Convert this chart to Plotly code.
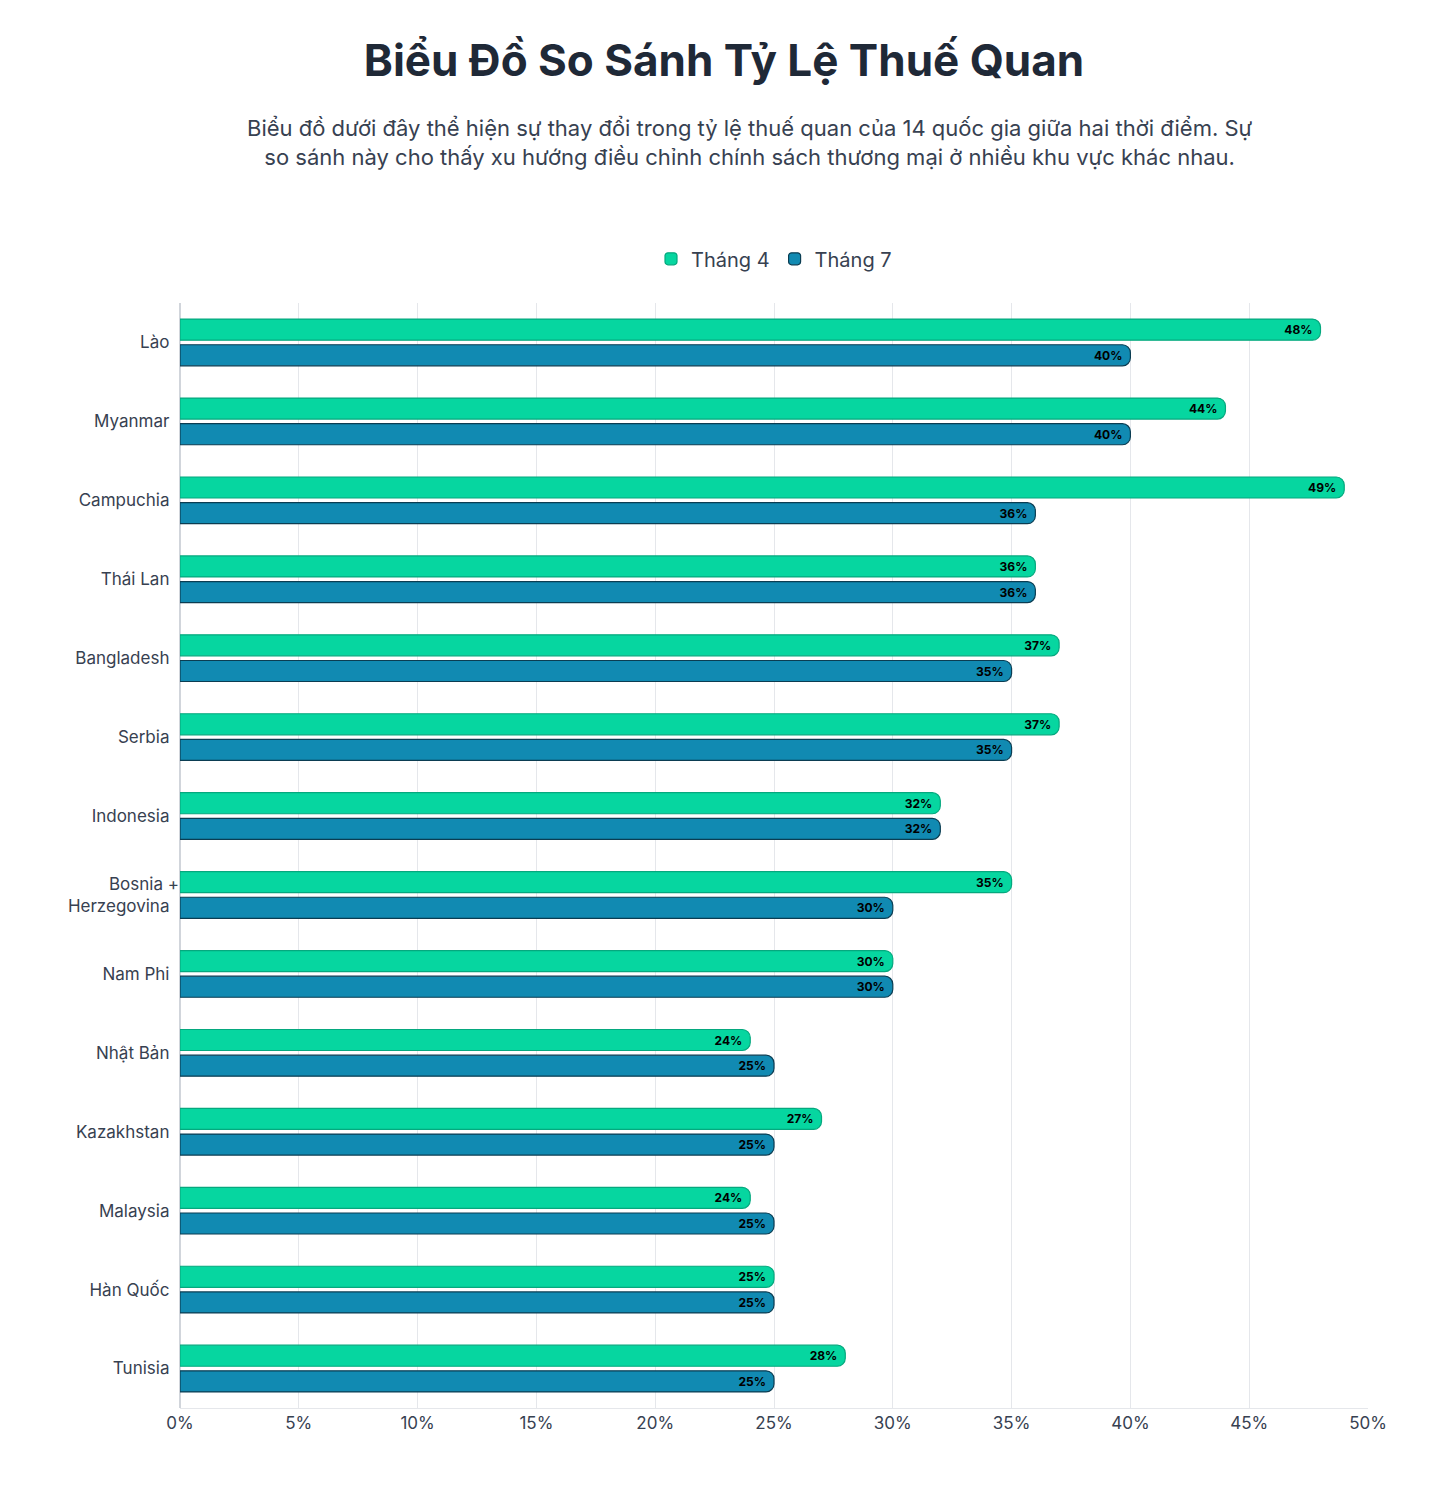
import plotly.graph_objects as go

countries = ["Lào", "Myanmar", "Campuchia", "Thái Lan", "Bangladesh", "Serbia", "Indonesia",
             "Bosnia +<br>Herzegovina", "Nam Phi", "Nhật Bản", "Kazakhstan", "Malaysia",
             "Hàn Quốc", "Tunisia"]
thang4 = [48, 44, 49, 36, 37, 37, 32, 35, 30, 24, 27, 24, 25, 28]
thang7 = [40, 40, 36, 36, 35, 35, 32, 30, 30, 25, 25, 25, 25, 25]

font = "Inter, Noto Sans, sans-serif"

fig = go.Figure()
for name, vals, color, line in [("Tháng 4", thang4, "#06d6a0", "#05a87e"),
                                ("Tháng 7", thang7, "#118ab2", "#0b3d52")]:
    fig.add_trace(go.Bar(
        y=countries, x=vals, name=name, orientation="h",
        marker=dict(color=color, line=dict(color=line, width=1.2)),
        text=[f"{v}%" for v in vals], textposition="inside", insidetextanchor="end",
        textfont=dict(family=font, size=16, color="#000000", weight="bold"),
        constraintext="none", cliponaxis=False,
    ))

fig.update_layout(
    width=1432, height=1488,
    paper_bgcolor="white", plot_bgcolor="white",
    barmode="group", bargap=0.35, bargroupgap=0.18, barcornerradius=8,
    margin=dict(l=172, r=72, t=295, b=88),
    title=dict(text="<b>Biểu Đồ So Sánh Tỷ Lệ Thuế Quan</b>", x=0.5, y=0.975, yanchor="top",
               font=dict(family=font, size=44, color="#1f2937")),
    legend=dict(orientation="h", x=0.5, xanchor="center", y=1.04, yanchor="middle",
                font=dict(family=font, size=20, color="#374151")),
    font=dict(family=font),
)
fig.add_annotation(
    text="Biểu đồ dưới đây thể hiện sự thay đổi trong tỷ lệ thuế quan của 14 quốc gia giữa hai thời điểm. Sự<br>"
         "so sánh này cho thấy xu hướng điều chỉnh chính sách thương mại ở nhiều khu vực khác nhau.",
    xref="paper", yref="paper", x=0.48, y=1.145, showarrow=False, yanchor="middle",
    font=dict(family=font, size=22, color="#374151"), align="center")
fig.update_xaxes(range=[0, 50], dtick=5, ticksuffix="%", showgrid=True, gridcolor="#e5e7eb",
                 zeroline=True, zerolinecolor="#d1d5db", tickfont=dict(size=17, color="#374151"),
                 showline=True, linecolor="#e5e7eb")
fig.update_yaxes(autorange="reversed", tickfont=dict(size=17, color="#374151"), ticksuffix="  ")
fig.write_html("out.html")
